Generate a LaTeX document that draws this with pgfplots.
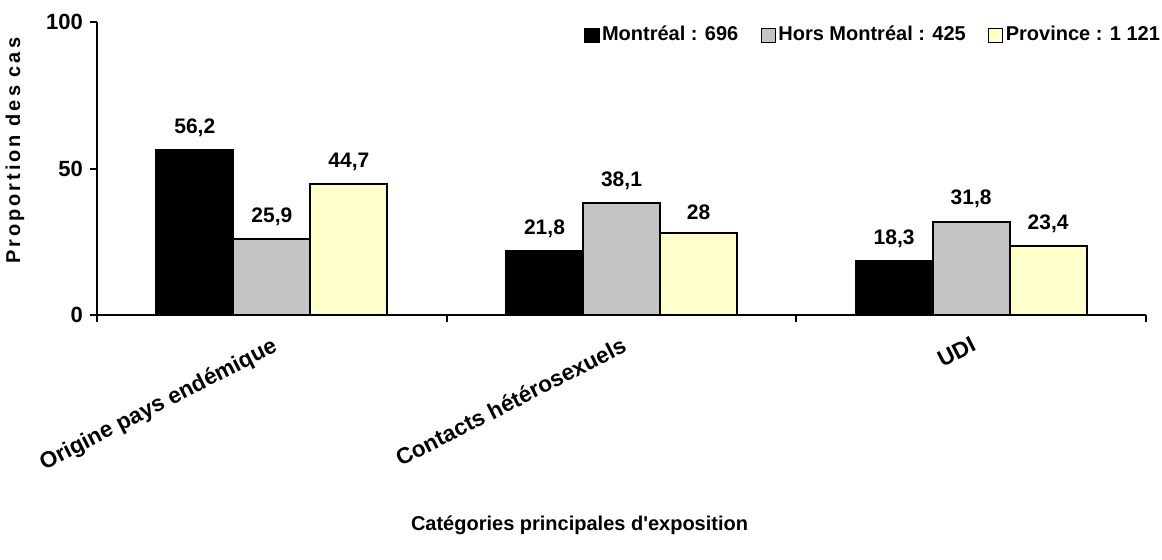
\documentclass[border=0pt]{standalone}
\usepackage{fontspec}
\setmainfont{Liberation Sans}
\newfontfamily\spacedfont[LetterSpace=15]{Liberation Sans}
\usepackage{pgfplots}
\pgfplotsset{compat=1.18}
\definecolor{bargray}{RGB}{196,196,196}
\definecolor{baryellow}{RGB}{255,255,204}
\pgfplotsset{sq legend/.style={legend image code/.code={\draw[##1, line width=0.6pt, draw=black] (0pt,-3.5pt) rectangle (7pt,3.5pt);}}}
\begin{document}
\begin{tikzpicture}[font=\bfseries]
\begin{axis}[
  scale only axis, width=524.5pt, height=146.5pt,
  ybar=0pt, bar width=38.5pt,
  xmin=-0.5, xmax=2.5, ymin=0, ymax=100,
  axis x line*=bottom, axis y line*=left,
  axis line style={line width=1pt, -},
  /pgf/number format/assume math mode=true,
  /pgf/number format/use comma,
  tick style={line width=1pt, black},
  major tick length=3.5pt, tick align=outside,
  xtick={-0.5,0.5,1.5,2.5}, xticklabels={},
  extra x ticks={0,1,2},
  extra x tick labels={Origine pays endémique, Contacts hétérosexuels, UDI},
  extra x tick style={major tick length=0pt,
    xticklabel style={font=\bfseries\fontsize{11.3}{13}\selectfont, yshift=-9pt, rotate=27, anchor=north east, inner sep=1pt}},
  ytick={0,50,100},
  yticklabel style={font=\bfseries\fontsize{11}{13}\selectfont},
  ylabel={Proportion des cas},
  ylabel style={at={(axis description cs:-0.0782,0.15)}, anchor=west, rotate=0, font=\spacedfont\bfseries\fontsize{10}{12}\selectfont},
  xlabel={Catégories principales d\textquotesingle exposition},
  xlabel style={at={(axis description cs:0.46,0)}, anchor=center, yshift=-105pt, font=\bfseries\fontsize{10}{12}\selectfont},
  nodes near coords={\pgfmathprintnumber{\pgfplotspointmeta}},
  every node near coord/.append style={font=\bfseries\fontsize{10.5}{12}\selectfont, yshift=3pt, black},
  legend style={draw=none, fill=none, at={(axis description cs:1.016,0.995)}, anchor=north east,
    font=\bfseries\fontsize{10}{12}\selectfont, inner sep=0pt,
    /tikz/every even column/.append style={column sep=10pt},
    nodes={inner sep=1.2pt}},
  legend columns=3,
]
\addplot[fill=black, draw=black, line width=1pt, sq legend] coordinates {(0,56.2) (1,21.8) (2,18.3)};
\addplot[fill=bargray, draw=black, line width=1pt, sq legend] coordinates {(0,25.9) (1,38.1) (2,31.8)};
\addplot[fill=baryellow, draw=black, line width=1pt, sq legend] coordinates {(0,44.7) (1,28) (2,23.4)};
\legend{Montréal : 696, Hors Montréal : 425, Province : 1 121}
\end{axis}
\pgfresetboundingbox
\path[use as bounding box] (-48.5pt,-122pt) rectangle (532.5pt,157.5pt);
\end{tikzpicture}
\end{document}
